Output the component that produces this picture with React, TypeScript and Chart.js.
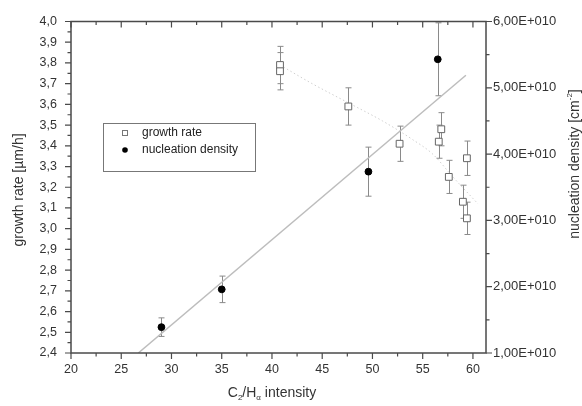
import React, { useEffect, useRef } from 'react';
import { Chart, registerables } from 'chart.js';
Chart.register(...registerables);

// ---- data ----
const growthX = [40.8, 40.8, 47.6, 52.7, 56.6, 56.85, 57.6, 59.0, 59.4, 59.4];
const growthY = [3.79, 3.76, 3.59, 3.41, 3.42, 3.48, 3.25, 3.13, 3.34, 3.05];
const growthErr = [0.09, 0.09, 0.09, 0.085, 0.08, 0.08, 0.08, 0.08, 0.083, 0.078];

const nucX = [29.0, 35.0, 49.6, 56.5];
const nucY = [1.39e10, 1.96e10, 3.735e10, 5.43e10];
const nucErr = [0.14e10, 0.2e10, 0.37e10, 0.55e10];

const nucFitX = [26.7, 59.3];
const nucFitY = [1.0e10, 5.19e10];

const growthFitX = [40.8, 44, 47.5, 51, 54, 56, 58, 60.5];
const growthFitY = [3.79, 3.7, 3.61, 3.52, 3.43, 3.36, 3.25, 3.12];

const xTicks = [20, 25, 30, 35, 40, 45, 50, 55, 60];
const xMinor = [22.5, 27.5, 32.5, 37.5, 42.5, 47.5, 52.5, 57.5];
const leftTicks = [2.4, 2.5, 2.6, 2.7, 2.8, 2.9, 3.0, 3.1, 3.2, 3.3, 3.4, 3.5, 3.6, 3.7, 3.8, 3.9, 4.0];
const leftMinor = [2.45, 2.55, 2.65, 2.75, 2.85, 2.95, 3.05, 3.15, 3.25, 3.35, 3.45, 3.55, 3.65, 3.75, 3.85, 3.95];
const rightTicks = [1e10, 2e10, 3e10, 4e10, 5e10, 6e10];
const rightMinor = [1.5e10, 2.5e10, 3.5e10, 4.5e10, 5.5e10];

const FONT = '"Liberation Sans", Arial, sans-serif';
const AXIS = '#4a4a4a';

type Seg = { t: string; size: number; dy: number };

function drawRich(ctx: CanvasRenderingContext2D, segs: Seg[], cx: number, cy: number) {
  let total = 0;
  segs.forEach((s) => {
    ctx.font = `${s.size}px ${FONT}`;
    total += ctx.measureText(s.t).width;
  });
  let x = cx - total / 2;
  ctx.textAlign = 'left';
  ctx.textBaseline = 'middle';
  segs.forEach((s) => {
    ctx.font = `${s.size}px ${FONT}`;
    ctx.fillText(s.t, x, cy + s.dy);
    x += ctx.measureText(s.t).width;
  });
}

const decorPlugin = {
  id: 'decor',
  beforeDatasetsDraw(chart: any) {
    const ctx = chart.ctx as CanvasRenderingContext2D;
    const xs = chart.scales.x;
    const yl = chart.scales.y;
    const yr = chart.scales.y1;
    const cap = 3;
    ctx.save();
    ctx.lineWidth = 1;
    ctx.strokeStyle = '#8a8a8a';
    const bar = (px: number, y0: number, y1: number) => {
      ctx.beginPath();
      ctx.moveTo(px, y0);
      ctx.lineTo(px, y1);
      ctx.moveTo(px - cap, y0);
      ctx.lineTo(px + cap, y0);
      ctx.moveTo(px - cap, y1);
      ctx.lineTo(px + cap, y1);
      ctx.stroke();
    };
    growthX.forEach((x, i) => {
      const px = Math.round(xs.getPixelForValue(x)) + 0.5;
      bar(px, yl.getPixelForValue(growthY[i] + growthErr[i]), yl.getPixelForValue(growthY[i] - growthErr[i]));
    });
    nucX.forEach((x, i) => {
      const px = Math.round(xs.getPixelForValue(x)) + 0.5;
      bar(px, yr.getPixelForValue(nucY[i] + nucErr[i]), yr.getPixelForValue(nucY[i] - nucErr[i]));
    });
    ctx.restore();
  },
  afterDraw(chart: any) {
    const ctx = chart.ctx as CanvasRenderingContext2D;
    const a = chart.chartArea;
    const xs = chart.scales.x;
    const yl = chart.scales.y;
    const yr = chart.scales.y1;
    ctx.save();
    ctx.strokeStyle = AXIS;
    ctx.lineWidth = 1.5;
    ctx.strokeRect(a.left, a.top, a.right - a.left, a.bottom - a.top);
    ctx.lineWidth = 1.2;
    ctx.beginPath();
    const major = 6;
    const minor = 3.5;
    xTicks.forEach((v) => {
      const p = xs.getPixelForValue(v);
      ctx.moveTo(p, a.bottom);
      ctx.lineTo(p, a.bottom + major);
      ctx.moveTo(p, a.top);
      ctx.lineTo(p, a.top + major);
    });
    xMinor.forEach((v) => {
      const p = xs.getPixelForValue(v);
      ctx.moveTo(p, a.bottom);
      ctx.lineTo(p, a.bottom + minor);
      ctx.moveTo(p, a.top);
      ctx.lineTo(p, a.top + minor);
    });
    leftTicks.forEach((v) => {
      const p = yl.getPixelForValue(v);
      ctx.moveTo(a.left, p);
      ctx.lineTo(a.left - major, p);
    });
    leftMinor.forEach((v) => {
      const p = yl.getPixelForValue(v);
      ctx.moveTo(a.left, p);
      ctx.lineTo(a.left - minor, p);
    });
    rightTicks.forEach((v) => {
      const p = yr.getPixelForValue(v);
      ctx.moveTo(a.right, p);
      ctx.lineTo(a.right + major, p);
    });
    rightMinor.forEach((v) => {
      const p = yr.getPixelForValue(v);
      ctx.moveTo(a.right, p);
      ctx.lineTo(a.right + minor, p);
    });
    ctx.stroke();

    // titles
    ctx.fillStyle = '#333';
    drawRich(
      ctx,
      [
        { t: 'C', size: 14, dy: 0 },
        { t: '2', size: 8, dy: 5 },
        { t: '/H', size: 14, dy: 0 },
        { t: 'α', size: 8, dy: 5 },
        { t: ' intensity', size: 14, dy: 0 },
      ],
      272,
      393
    );
    ctx.save();
    ctx.translate(19, 190);
    ctx.rotate(-Math.PI / 2);
    drawRich(ctx, [{ t: 'growth rate [µm/h]', size: 14, dy: 0 }], 0, 0);
    ctx.restore();
    ctx.save();
    ctx.translate(575, 164);
    ctx.rotate(-Math.PI / 2);
    drawRich(
      ctx,
      [
        { t: 'nucleation density [cm', size: 14, dy: 0 },
        { t: '-2', size: 8, dy: -5 },
        { t: ']', size: 14, dy: 0 },
      ],
      0,
      0
    );
    ctx.restore();

    // legend
    const bx = 103.5, by = 123.5, bw = 152, bh = 48;
    ctx.strokeStyle = '#777';
    ctx.lineWidth = 1;
    ctx.fillStyle = '#fff';
    ctx.fillRect(bx, by, bw, bh);
    ctx.strokeRect(bx, by, bw, bh);
    const ds = chart.data.datasets;
    const r1 = 133, r2 = 150;
    ctx.strokeStyle = '#777';
    ctx.strokeRect(122.5, r1 - 2.5, 5, 5);
    ctx.fillStyle = '#000';
    ctx.beginPath();
    ctx.arc(125, r2, 2.8, 0, Math.PI * 2);
    ctx.fill();
    ctx.fillStyle = '#222';
    ctx.font = `12px ${FONT}`;
    ctx.textAlign = 'left';
    ctx.textBaseline = 'middle';
    ctx.fillText(ds[0].label, 142, r1);
    ctx.fillText(ds[1].label, 142, r2);
    ctx.restore();
  },
};

export default function App() {
  const ref = useRef<HTMLCanvasElement>(null);
  useEffect(() => {
    const canvas = ref.current!;
    const chart = new Chart(canvas, {
      type: 'scatter',
      data: {
        datasets: [
          {
            label: 'growth rate',
            data: growthX.map((x, i) => ({ x, y: growthY[i] })),
            yAxisID: 'y',
            pointStyle: 'rect',
            pointRadius: 4.8,
            backgroundColor: '#ffffff',
            borderColor: '#666',
            borderWidth: 1,
            showLine: false,
          },
          {
            label: 'nucleation density',
            data: nucX.map((x, i) => ({ x, y: nucY[i] })),
            yAxisID: 'y1',
            pointStyle: 'circle',
            pointRadius: 3.4,
            backgroundColor: '#000',
            borderColor: '#000',
            borderWidth: 1,
            showLine: false,
          },
          {
            label: 'nucleation fit',
            data: nucFitX.map((x, i) => ({ x, y: nucFitY[i] })),
            yAxisID: 'y1',
            showLine: true,
            pointRadius: 0,
            borderColor: '#bdbdbd',
            borderWidth: 1.5,
          },
          {
            label: 'growth fit',
            data: growthFitX.map((x, i) => ({ x, y: growthFitY[i] })),
            yAxisID: 'y',
            showLine: true,
            pointRadius: 0,
            borderColor: '#cfcfcf',
            borderWidth: 1,
            borderDash: [1.5, 2.5],
            cubicInterpolationMode: 'monotone',
          },
        ],
      } as any,
      options: {
        responsive: false,
        animation: false,
        devicePixelRatio: 1,
        layout: { padding: { top: 18, left: 0, right: 0, bottom: 0 } },
        plugins: { legend: { display: false }, tooltip: { enabled: false } },
        scales: {
          x: {
            type: 'linear',
            min: 20,
            max: 61.3,
            afterBuildTicks: (s: any) => {
              s.ticks = xTicks.map((v) => ({ value: v }));
            },
            afterFit: (s: any) => {
              s.height = 53;
            },
            grid: { display: false, drawTicks: false },
            border: { display: false },
            ticks: {
              padding: 9,
              color: '#333',
              font: { family: FONT, size: 12.5 },
              callback: (v: any) => String(v),
            },
          },
          y: {
            type: 'linear',
            position: 'left',
            min: 2.4,
            max: 4.0,
            afterBuildTicks: (s: any) => {
              s.ticks = leftTicks.map((v) => ({ value: v }));
            },
            afterFit: (s: any) => {
              s.width = 71;
            },
            grid: { display: false, drawTicks: false },
            border: { display: false },
            ticks: {
              padding: 14,
              color: '#333',
              font: { family: FONT, size: 12.5 },
              callback: (v: any) => Number(v).toFixed(1).replace('.', ','),
            },
          },
          y1: {
            type: 'linear',
            position: 'right',
            min: 1e10,
            max: 6e10,
            afterBuildTicks: (s: any) => {
              s.ticks = rightTicks.map((v) => ({ value: v }));
            },
            afterFit: (s: any) => {
              s.width = 96;
            },
            grid: { display: false, drawTicks: false },
            border: { display: false },
            ticks: {
              padding: 7,
              color: '#333',
              font: { family: FONT, size: 13 },
              callback: (v: any) => (Number(v) / 1e10).toFixed(2).replace('.', ',') + 'E+010',
            },
          },
        },
      } as any,
      plugins: [decorPlugin],
    });
    return () => chart.destroy();
  }, []);
  return (
    <div style={{ position: 'fixed', left: 0, top: 0, width: 582, height: 406, background: '#fff' }}>
      <canvas ref={ref} width={582} height={406} style={{ width: 582, height: 406 }} />
    </div>
  );
}
